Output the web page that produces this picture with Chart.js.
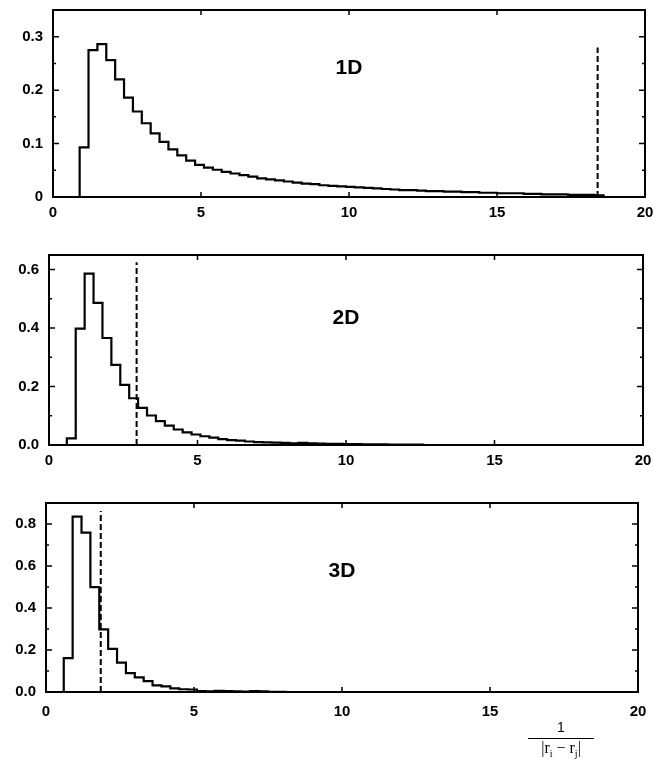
<!DOCTYPE html>
<html>
<head>
<meta charset="utf-8">
<script src="https://cdn.jsdelivr.net/npm/chart.js@4.4.1/dist/chart.umd.min.js"></script>
<style>
  html, body { margin: 0; padding: 0; background: #fff; }
  #page { position: relative; width: 669px; height: 772px; overflow: hidden; }
  .panel { position: absolute; left: 0; width: 669px; }
  #xlabel { position: absolute; left: 528px; top: 718px; width: 66px; text-align: center;
    font-family: "Liberation Serif", serif; font-size: 16px; color: #000; line-height: 18px; }
  #xlabel .num { border-bottom: 1.5px solid #000; padding-bottom: 2px; font-family: "Liberation Sans", sans-serif; font-size: 14px; }
  #xlabel sub { font-size: 10px; }
</style>
</head>
<body>
<div id="page">
  <div class="panel" style="top:0px;height:230px"><canvas id="c1" width="669" height="230"></canvas></div>
  <div class="panel" style="top:240px;height:230px"><canvas id="c2" width="669" height="230"></canvas></div>
  <div class="panel" style="top:490px;height:240px"><canvas id="c3" width="669" height="240"></canvas></div>
  <div id="xlabel"><div class="num">1</div><div>|r<sub>i</sub> &minus; r<sub>j</sub>|</div></div>
</div>
<script>
// histogram bins are 0.3 wide
const binWidth = 0.3;

const start1D = 0.9;
const hist1D = [
  0.093, 0.275, 0.286, 0.256, 0.220, 0.186, 0.160, 0.138, 0.119, 0.103,
  0.089, 0.078, 0.068, 0.060, 0.055, 0.051, 0.047, 0.044, 0.041, 0.038,
  0.035, 0.033, 0.031, 0.029, 0.027, 0.025, 0.024, 0.022, 0.021, 0.020,
  0.019, 0.018, 0.017, 0.016, 0.015, 0.014, 0.013, 0.013, 0.012, 0.011,
  0.011, 0.010, 0.010, 0.009, 0.009, 0.008, 0.008, 0.007, 0.007, 0.007,
  0.006, 0.006, 0.005, 0.005, 0.005, 0.004, 0.004, 0.004, 0.003
];

const start2D = 0.6;
const hist2D = [
  0.023, 0.398, 0.586, 0.486, 0.366, 0.274, 0.206, 0.160, 0.127, 0.101,
  0.082, 0.066, 0.053, 0.043, 0.036, 0.030, 0.025, 0.020, 0.017, 0.015,
  0.012, 0.010, 0.009, 0.008, 0.007, 0.006, 0.007, 0.006, 0.005, 0.004,
  0.004, 0.003, 0.003, 0.002, 0.002, 0.002, 0.001, 0.001, 0.001, 0.001
];

const start3D = 0.6;
const hist3D = [
  0.161, 0.835, 0.759, 0.499, 0.298, 0.205, 0.140, 0.090, 0.070, 0.052,
  0.032, 0.027, 0.017, 0.013, 0.012, 0.004, 0.003, 0.005, 0.004, 0.003,
  0.002, 0.004, 0.003, 0.001, 0.001
];

// dashed markers: [x, height]
const mark1D = [18.4, 0.28];
const mark2D = [2.95, 0.625];
const mark3D = [1.85, 0.862];

const xTicks = [0, 5, 10, 15, 20];
const xTickLabels = ["0", "5", "10", "15", "20"];

const yTicks1D = [0, 0.1, 0.2, 0.3];
const yLabels1D = ["0", "0.1", "0.2", "0.3"];
const yMinor1D = [0.05, 0.15, 0.25];

const yTicks2D = [0, 0.2, 0.4, 0.6];
const yLabels2D = ["0.0", "0.2", "0.4", "0.6"];
const yMinor2D = [0.1, 0.3, 0.5];

const yTicks3D = [0, 0.2, 0.4, 0.6, 0.8];
const yLabels3D = ["0.0", "0.2", "0.4", "0.6", "0.8"];
const yMinor3D = [0.1, 0.3, 0.5, 0.7];

const panelNames = ["1D", "2D", "3D"];

const tickFont = { family: "'Liberation Sans', Arial, sans-serif", size: 15, weight: "bold" };

function stepPoints(start, values) {
  var pts = [{ x: start, y: 0 }];
  values.forEach(function (v, i) {
    pts.push({ x: start + i * binWidth, y: v });
  });
  pts.push({ x: start + values.length * binWidth, y: 0 });
  return pts;
}

// frame, inward ticks and the panel name
const frame = {
  id: "frame",
  afterDatasetsDraw(chart, args, opts) {
    const ctx = chart.ctx;
    const a = chart.chartArea;
    const xs = chart.scales.x;
    const ys = chart.scales.y;
    ctx.save();
    ctx.strokeStyle = "#000";
    ctx.lineWidth = 2;
    ctx.strokeRect(a.left, a.top, a.right - a.left, a.bottom - a.top);
    ctx.lineWidth = 1.5;
    ctx.beginPath();
    xTicks.slice(1, -1).forEach(function (v) {
      const px = xs.getPixelForValue(v);
      ctx.moveTo(px, a.bottom); ctx.lineTo(px, a.bottom - 5);
      ctx.moveTo(px, a.top); ctx.lineTo(px, a.top + 5);
    });
    opts.major.slice(1).forEach(function (v) {
      const py = ys.getPixelForValue(v);
      ctx.moveTo(a.left, py); ctx.lineTo(a.left + 6, py);
      ctx.moveTo(a.right, py); ctx.lineTo(a.right - 6, py);
    });
    opts.minor.forEach(function (v) {
      const py = ys.getPixelForValue(v);
      ctx.moveTo(a.left, py); ctx.lineTo(a.left + 3, py);
      ctx.moveTo(a.right, py); ctx.lineTo(a.right - 3, py);
    });
    ctx.stroke();
    ctx.fillStyle = "#000";
    ctx.font = "bold 21px 'Liberation Sans', Arial, sans-serif";
    ctx.textAlign = "center";
    ctx.textBaseline = "middle";
    ctx.fillText(opts.name, xs.getPixelForValue(opts.nameX), ys.getPixelForValue(opts.nameY));
    ctx.restore();
  }
};

function makeChart(id, cfg) {
  return new Chart(document.getElementById(id), {
    type: "line",
    data: {
      datasets: [
        {
          data: stepPoints(cfg.start, cfg.values),
          stepped: true,
          borderColor: "#000",
          borderWidth: 2.2,
          pointRadius: 0,
          fill: false,
        },
        {
          data: [{ x: cfg.mark[0], y: 0 }, { x: cfg.mark[0], y: cfg.mark[1] }],
          borderColor: "#000",
          borderWidth: 2,
          borderDash: [6, 3],
          pointRadius: 0,
          fill: false,
        },
      ],
    },
    options: {
      responsive: false,
      animation: false,
      layout: { padding: { top: cfg.padTop, right: cfg.padRight, left: 0, bottom: 0 } },
      plugins: {
        legend: { display: false },
        tooltip: { enabled: false },
        frame: { major: cfg.yTicks, minor: cfg.yMinor, name: cfg.name, nameX: cfg.nameX, nameY: cfg.nameY },
      },
      scales: {
        x: {
          type: "linear",
          min: 0,
          max: 20,
          grid: { display: false, drawTicks: false },
          border: { display: false },
          afterBuildTicks: (s) => { s.ticks = xTicks.map((v) => ({ value: v })); },
          afterFit: (s) => { s.height = cfg.xHeight; s.paddingLeft = 0; s.paddingRight = 0; },
          ticks: {
            autoSkip: false,
            maxRotation: 0,
            padding: cfg.xPad,
            color: "#000",
            font: tickFont,
            callback: (v, i) => xTickLabels[i],
          },
        },
        y: {
          type: "linear",
          min: 0,
          max: cfg.yMax,
          grid: { display: false, drawTicks: false },
          border: { display: false },
          afterBuildTicks: (s) => { s.ticks = cfg.yTicks.map((v) => ({ value: v })); },
          afterFit: (s) => { s.width = cfg.left; s.paddingTop = 0; s.paddingBottom = 0; },
          ticks: {
            padding: 10,
            color: "#000",
            font: tickFont,
            callback: (v, i) => cfg.yLabels[i],
          },
        },
      },
    },
    plugins: [frame],
  });
}

makeChart("c1", {
  start: start1D, values: hist1D, mark: mark1D, yMax: 0.35,
  yTicks: yTicks1D, yLabels: yLabels1D, yMinor: yMinor1D,
  left: 53, padTop: 10, padRight: 24, xHeight: 33, xPad: 7,
  name: panelNames[0], nameX: 10, nameY: 0.241,
});
makeChart("c2", {
  start: start2D, values: hist2D, mark: mark2D, yMax: 0.65,
  yTicks: yTicks2D, yLabels: yLabels2D, yMinor: yMinor2D,
  left: 49, padTop: 15, padRight: 26, xHeight: 25, xPad: 7,
  name: panelNames[1], nameX: 10, nameY: 0.433,
});
makeChart("c3", {
  start: start3D, values: hist3D, mark: mark3D, yMax: 0.9,
  yTicks: yTicks3D, yLabels: yLabels3D, yMinor: yMinor3D,
  left: 46, padTop: 13, padRight: 31, xHeight: 38, xPad: 11,
  name: panelNames[2], nameX: 10, nameY: 0.577,
});
</script>
</body>
</html>
